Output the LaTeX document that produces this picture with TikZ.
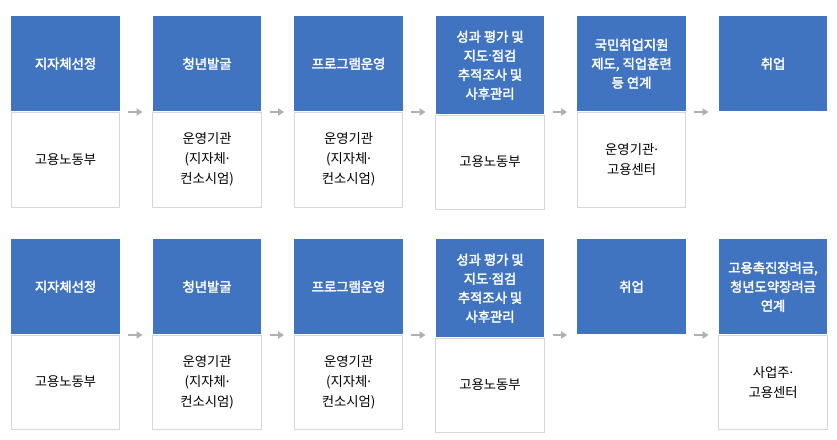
\documentclass[tikz,border=0pt]{standalone}
\usepackage{fontspec}
\newfontfamily\kr{Noto Sans CJK KR}
\newfontfamily\krh[FakeBold=2.5]{Noto Sans CJK KR}
\newfontfamily\latin{Noto Sans}
\newcommand{\md}{{\latin ·}}
\usetikzlibrary{arrows.meta}
\definecolor{kblue}{RGB}{64,116,192}
\definecolor{kline}{RGB}{214,214,214}
\definecolor{karrow}{RGB}{176,176,176}
\tikzset{head/.style={fill=kblue, text=white, font=\krh\fontsize{10}{14.25}\selectfont, align=center, inner sep=0pt, minimum width=81.4pt, anchor=north west},
         body/.style={draw=kline, line width=0.75pt, fill=white, text=black, font=\kr\fontsize{10}{15}\selectfont, align=center, inner sep=0pt, minimum width=81.4pt, anchor=north},
         flow/.style={draw=karrow, line width=0.9pt, -{Triangle[length=4.5pt,width=5.5pt]}, shorten <=6pt, shorten >=7.5pt}}

\begin{document}
\begin{tikzpicture}[x=0.75pt,y=-0.75pt]
    \path[use as bounding box, fill=white] (0,0) rectangle (837,439);
    % upper row
    \foreach \h/\b[count=\n] in {지자체선정/고용노동부, 청년발굴/{운영기관\\(지자체\md\\컨소시엄)}, 프로그램운영/{운영기관\\(지자체\md\\컨소시엄)}, {성과 평가 및\\지도\md 점검\\추적조사 및\\사후관리}/고용노동부, {국민취업지원\\제도, 직업훈련\\등 연계}/{운영기관\md\\고용센터}, 취업/{}}{
        \ifnum\n=4
            \node[head, minimum height=73.5pt] (ha\n) at ({11+141.5*(\n-1)},16) {\h};
            \node[body, minimum height=70.5pt] (ba\n) at (ha\n.south) {\b};
        \else
            \node[head, minimum height=71.25pt] (ha\n) at ({11+141.5*(\n-1)},16) {\h};
            \ifnum\n<6
                \node[body, minimum height=71.25pt] (ba\n) at (ha\n.south) {\b};
            \fi
        \fi
        }
    % lower row
    \foreach \h/\b[count=\n] in {지자체선정/고용노동부, 청년발굴/{운영기관\\(지자체\md\\컨소시엄)}, 프로그램운영/{운영기관\\(지자체\md\\컨소시엄)}, {성과 평가 및\\지도\md 점검\\추적조사 및\\사후관리}/고용노동부, 취업/{}, {고용촉진장려금,\\청년도약장려금\\연계}/{사업주\md\\고용센터}}{
        \ifnum\n=4
            \node[head, minimum height=73.5pt] (hb\n) at ({11+141.5*(\n-1)},239) {\h};
            \node[body, minimum height=70.5pt] (bb\n) at (hb\n.south) {\b};
        \else
            \node[head, minimum height=71.25pt] (hb\n) at ({11+141.5*(\n-1)},239) {\h};
            \ifnum\n=5\else
                \node[body, minimum height=70.5pt] (bb\n) at (hb\n.south) {\b};
            \fi
        \fi
        }
    % arrows
    \foreach \i[count=\j from 2] in {1,...,5}{
        \draw[flow] ([yshift=-72pt]ha\i.north east) -- ([yshift=-72pt]ha\j.north west);
        \draw[flow] ([yshift=-72pt]hb\i.north east) -- ([yshift=-72pt]hb\j.north west);
        }
\end{tikzpicture}
\end{document}
